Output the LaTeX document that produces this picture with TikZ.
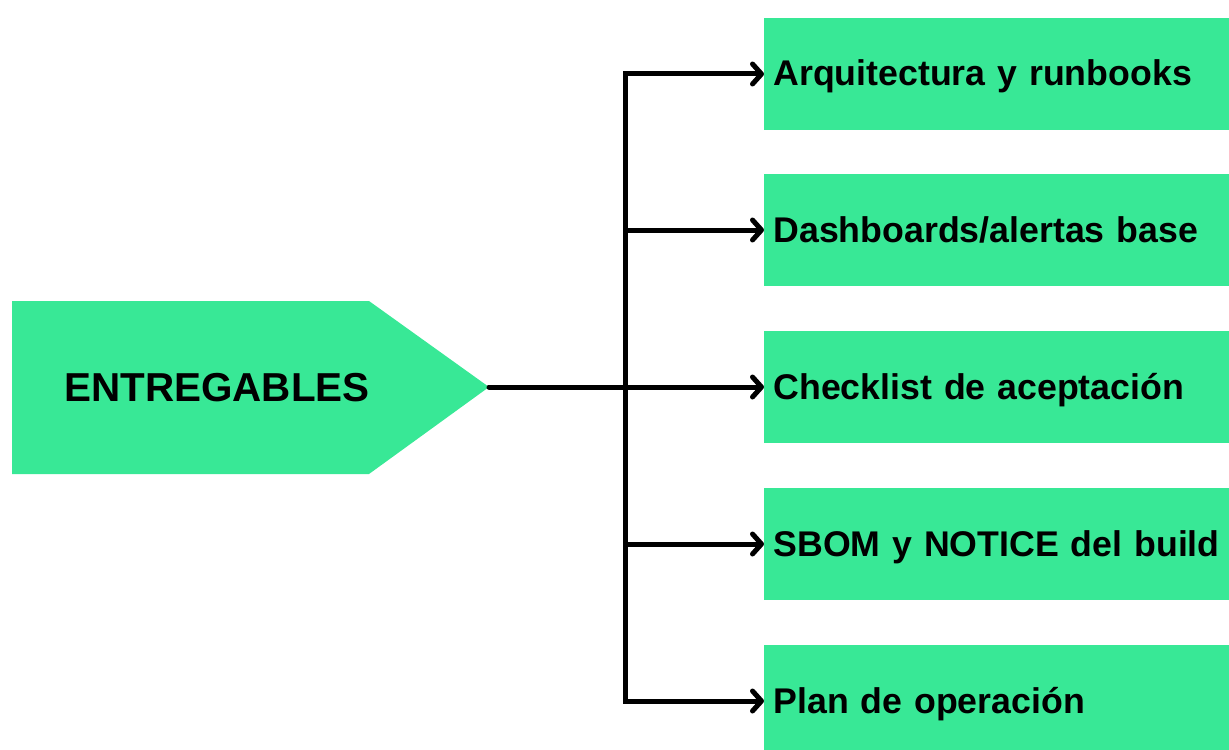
\documentclass[tikz,border=0pt]{standalone}
\usepackage{fontspec}
\setmainfont{Liberation Sans}
\usetikzlibrary{arrows.meta}
\definecolor{entgreen}{RGB}{56,232,150}
\tikzset{
  entbox/.style={fill=entgreen, anchor=west, minimum height=56pt, text width=240pt,
    text height=14pt, text depth=2pt,
    inner xsep=4.5pt, align=left, font=\bfseries\fontsize{17.85}{22}\selectfont},
  conn/.style={line width=2.5pt, -{Straight Barb[length=4.5pt,width=10pt,line cap=round,line join=round]}}
}

\begin{document}
\begin{tikzpicture}[x=0.5pt, y=-0.5pt]
\clip (0,0) rectangle (1229,749);
% main block
\fill[entgreen] (12,301) -- (369,301) -- (489,387) -- (369,474) -- (12,474) -- cycle;
\node[font=\bfseries\fontsize{20.2}{24}\selectfont] (ent) at (217,388) {ENTREGABLES};
\coordinate (tip) at (489,387);
\coordinate (fork) at (625,387);

% deliverables
\node[entbox] (arq) at (764,74) {Arquitectura y runbooks};
\node[entbox] (dash) at (764,230) {Dashboards/alertas base};
\node[entbox] (check) at (764,387) {Checklist de aceptación};
\node[entbox] (sbom) at (764,544) {SBOM y NOTICE del build};
\node[entbox] (plan) at (764,701) {Plan de operación};

% connectors
\draw[line width=2.5pt, line cap=round] (tip) -- (fork);
\draw[conn] (fork) |- (arq.west);
\draw[conn] (fork) |- (dash.west);
\draw[conn] (fork) -- (check.west);
\draw[conn] (fork) |- (sbom.west);
\draw[conn] (fork) |- (plan.west);
\end{tikzpicture}
\end{document}
